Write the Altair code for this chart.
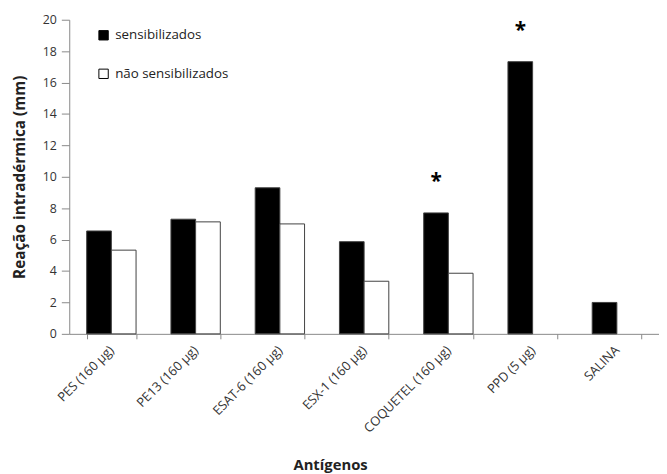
import altair as alt
import pandas as pd

categories = ["PES (160 µg)", "PE13 (160 µg)", "ESAT-6 (160 µg)", "ESX-1 (160 µg)",
              "COQUETEL (160 µg)", "PPD (5 µg)", "SALINA"]
series = ["sensibilizados", "não sensibilizados"]
sens = [6.55, 7.3, 9.3, 5.87, 7.7, 17.33, 2.0]
nao_sens = [5.33, 7.13, 7.0, 3.35, 3.86, None, None]
y_ticks = [0, 2, 4, 6, 8, 10, 12, 14, 16, 18, 20]
star_cats = ["COQUETEL (160 µg)", "PPD (5 µg)"]
star_y = [10.0, 19.6]

rows = []
for c, v in zip(categories, sens):
    rows.append({"cat": c, "serie": series[0], "val": v})
for c, v in zip(categories, nao_sens):
    if v is not None:
        rows.append({"cat": c, "serie": series[1], "val": v})
df = pd.DataFrame(rows)
stars = pd.DataFrame({"cat": star_cats, "serie": [series[0]] * len(star_cats), "val": star_y})

FONT = "Open Sans"
xscale = alt.Scale(domain=categories, paddingInner=0.414, paddingOuter=0.207)
yscale = alt.Scale(domain=[0, 20])
xaxis = alt.Axis(title="Antígenos", labelAngle=-45, labelAlign="right",
                 labelBaseline="middle", labelPadding=9, labelFontSize=13,
                 labelColor="#333333", tickBand="extent", tickSize=5,
                 labelOverlap=False,
                 domainColor="#888888", tickColor="#888888",
                 titleFontSize=15, titleFontWeight="bold", titleColor="#222222",
                 titleX=264, titleY=137, titleAlign="center",
                 titleBaseline="alphabetic")
yaxis = alt.Axis(title="Reação intradérmica (mm)", values=y_ticks,
                 grid=False, tickSize=8, labelPadding=5, labelFontSize=12.5,
                 labelOverlap=False, labelFlush=False,
                 labelColor="#333333", domainColor="#888888", tickColor="#888888",
                 titleFontSize=15.5, titleFontWeight="bold", titleColor="#222222",
                 titlePadding=15)
offset = alt.XOffset("serie:N", sort=series, scale=alt.Scale(domain=series))

bars = alt.Chart(df).mark_bar(stroke="#404040", strokeWidth=1).encode(
    x=alt.X("cat:N", sort=categories, scale=xscale, axis=xaxis),
    xOffset=offset,
    y=alt.Y("val:Q", scale=yscale, axis=yaxis),
    color=alt.Color("serie:N", sort=series,
                    scale=alt.Scale(domain=series, range=["#000000", "#ffffff"]),
                    legend=alt.Legend(title=None, orient="none", legendX=28, legendY=9,
                                      symbolType="square", symbolSize=90,
                                      symbolStrokeColor="#000000", symbolStrokeWidth=1,
                                      labelFontSize=13.5, labelColor="#222222",
                                      rowPadding=24, labelOffset=5)),
)

star_marks = alt.Chart(stars).mark_text(text="*", fontSize=21, fontWeight="bold",
                                        font=FONT, color="#000000",
                                        baseline="middle", dy=5).encode(
    x=alt.X("cat:N", sort=categories, scale=xscale, axis=xaxis),
    xOffset=offset,
    y=alt.Y("val:Q", scale=yscale, axis=yaxis),
)

chart = alt.layer(bars, star_marks).properties(
    width=597, height=318,
    autosize=alt.AutoSizeParams(type="none"),
    padding={"left": 62, "top": 9, "right": 0, "bottom": 140},
).configure(font=FONT).configure_view(stroke=None)

chart.save("out.html", embed_options={"renderer": "svg", "actions": False})
